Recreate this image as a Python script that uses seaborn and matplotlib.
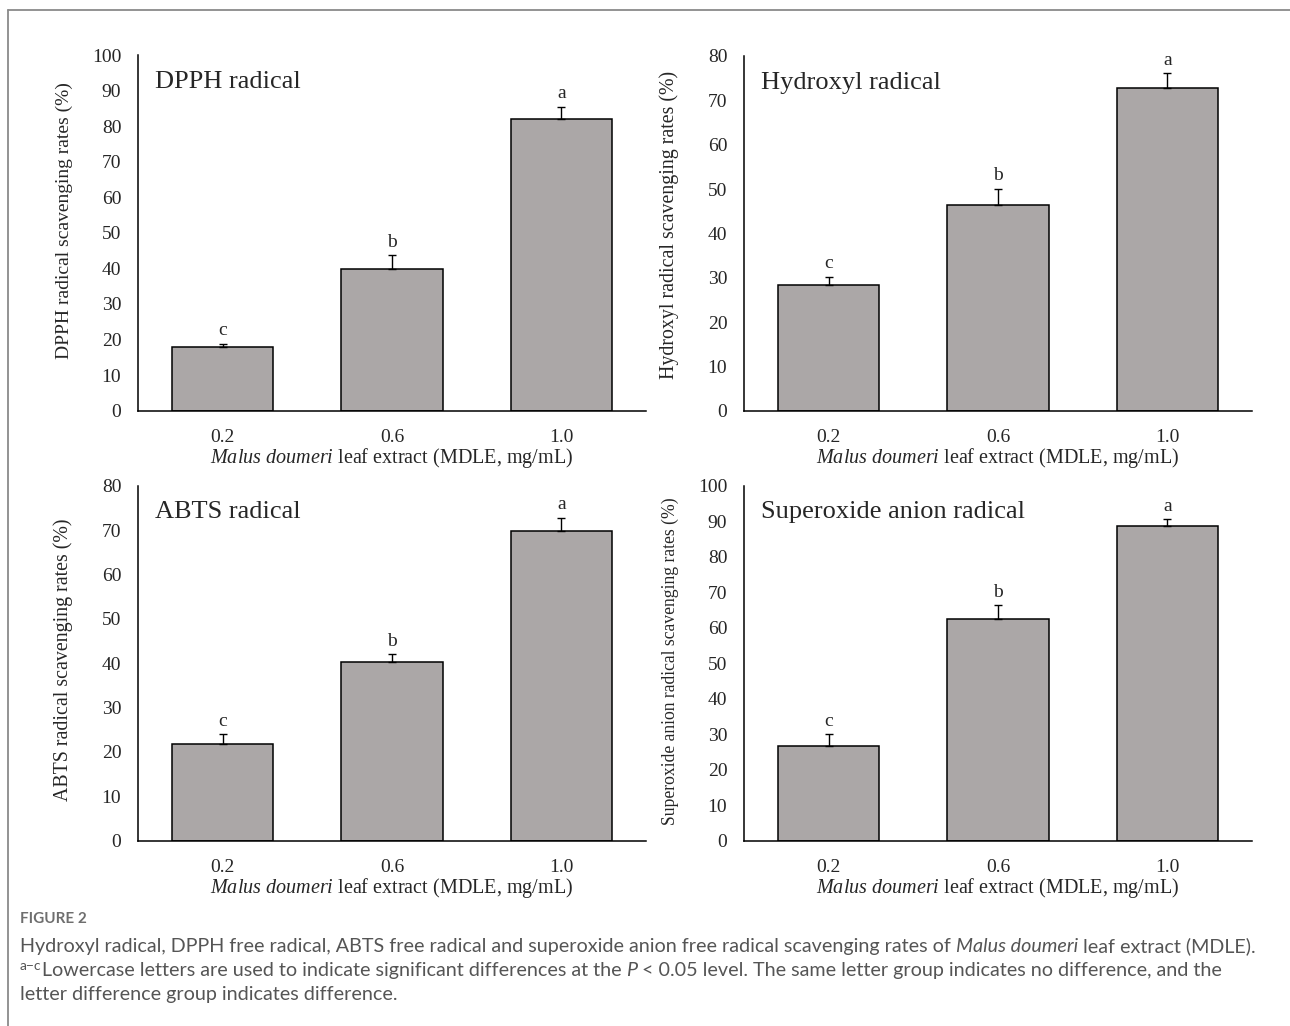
import numpy as np
import pandas as pd
import seaborn as sns
import matplotlib.pyplot as plt
from matplotlib.lines import Line2D

# values (mean, upper error bar = SD)
doses = ['0.2', '0.6', '1.0']
letters = ['c', 'b', 'a']

dpph_mean = [17.8, 39.8, 82.0]
dpph_sd = [1.0, 3.9, 3.5]
hydroxyl_mean = [28.3, 46.4, 72.7]
hydroxyl_sd = [1.9, 3.7, 3.5]
abts_mean = [21.9, 40.3, 69.7]
abts_sd = [2.1, 1.7, 3.1]
superoxide_mean = [26.6, 62.4, 88.6]
superoxide_sd = [3.4, 4.0, 1.9]

sns.set_style('white')
plt.rcParams['font.family'] = ['Liberation Serif', 'DejaVu Serif']
plt.rcParams['mathtext.fontset'] = 'custom'
plt.rcParams['mathtext.rm'] = 'Liberation Serif'
plt.rcParams['mathtext.it'] = 'Liberation Serif:italic'

fig = plt.figure(figsize=(12.9, 10.26), dpi=100)

W, H = 1290, 1026
def box(x0, x1, ytop, ybot):
    return [x0 / W, 1 - ybot / H, (x1 - x0) / W, (ybot - ytop) / H]

# mean, sd, title, y label, y max, axes box, y label size, y label centre
panels = [
    (dpph_mean, dpph_sd, 'DPPH radical', 'DPPH radical scavenging rates (%)', 100,
     box(138, 646, 55, 410.7), 14, 0.535),
    (hydroxyl_mean, hydroxyl_sd, 'Hydroxyl radical', 'Hydroxyl radical scavenging rates (%)', 80,
     box(744, 1252, 56, 410.7), 14.3, 0.523),
    (abts_mean, abts_sd, 'ABTS radical', 'ABTS radical scavenging rates (%)', 80,
     box(138, 646, 485.7, 840.7), 14.3, 0.509),
    (superoxide_mean, superoxide_sd, 'Superoxide anion radical', 'Superoxide anion radical scavenging rates (%)', 100,
     box(744, 1252, 485.7, 840.7), 12.7, 0.505),
]

bar_color = '#aba7a7'

for mean, sd, title, ylab, ymax, pos, ylab_size, ylab_y in panels:
    ax = fig.add_axes(pos)
    df = pd.DataFrame({'dose': doses, 'rate': mean})
    sns.barplot(data=df, x='dose', y='rate', color=bar_color, saturation=1,
                width=0.6, edgecolor='black', linewidth=1.1, ax=ax)
    ax.errorbar(x=range(len(doses)), y=mean, yerr=[np.zeros(len(sd)), sd],
                fmt='none', ecolor='black', elinewidth=1.0, capsize=3, capthick=1.0)
    for i, (m, s, let) in enumerate(zip(mean, sd, letters)):
        ax.annotate(let, xy=(i, m + s), xytext=(0, 6), textcoords='offset points',
                    ha='center', va='baseline', fontsize=14)

    ax.set_xlim(-0.5, 2.5)
    ax.set_ylim(0, ymax)
    ax.set_yticks(np.arange(0, ymax + 1, 10))
    ax.tick_params(axis='y', direction='in', length=4, width=1, labelsize=14, pad=12)
    ax.tick_params(axis='x', which='major', length=0, labelsize=14, pad=13)
    ax.set_xticks([0.5, 1.5, 2.5], minor=True)
    ax.tick_params(axis='x', which='minor', direction='in', length=5, width=1)
    for side in ['top', 'right']:
        ax.spines[side].set_visible(False)
    for side in ['left', 'bottom']:
        ax.spines[side].set_linewidth(1.1)
        ax.spines[side].set_color('black')

    ax.set_xlabel(r'$\mathit{Malus\ doumeri}$ leaf extract (MDLE, mg/mL)', fontsize=14.5, labelpad=0)
    ax.set_ylabel(ylab, fontsize=ylab_size)
    ax.yaxis.set_label_coords(-0.128, ylab_y)
    ax.text(0.033, 0.925, title, transform=ax.transAxes, ha='left', va='center', fontsize=19)

# frame around the figure
fig.add_artist(Line2D([8 / W, 1], [1 - 10 / H, 1 - 10 / H], color='#8a8a8a', lw=1.3))
fig.add_artist(Line2D([8 / W, 8 / W], [0, 1 - 10 / H], color='#8a8a8a', lw=1.3))

# caption, pieces laid out one after another on a common baseline
renderer = fig.canvas.get_renderer()
cap_font = ['Lato', 'DejaVu Sans']
cap_color = '#555555'

def caption_line(pieces, x_px, base_px):
    for txt, kw in pieces:
        size = kw.pop('size', 14.2)
        rise = kw.pop('rise', 0)
        t = fig.text(x_px / W, 1 - (base_px - rise) / H, txt, va='baseline', ha='left',
                     family=cap_font, color=cap_color, fontsize=size, **kw)
        x_px += t.get_window_extent(renderer).width

fig.text(20 / W, 1 - 919 / H, 'FIGURE 2', va='center', family=cap_font,
         color='#6e6e6e', fontsize=11, fontweight='bold')

caption_line([
    ('Hydroxyl radical, DPPH free radical, ABTS free radical and superoxide anion '
     'free radical scavenging rates of ', {}),
    ('Malus doumeri', {'style': 'italic'}),
    (' leaf extract (MDLE).', {}),
], 20, 952)

caption_line([
    ('a\u2212c', {'size': 10, 'rise': 6}),
    ('Lowercase letters are used to indicate significant differences at the ', {}),
    ('P', {'style': 'italic'}),
    (' < 0.05 level. The same letter group indicates no difference, and the', {}),
], 20, 976)

caption_line([
    ('letter difference group indicates difference.', {}),
], 20, 1000)

fig.savefig('out.png', dpi=100)
